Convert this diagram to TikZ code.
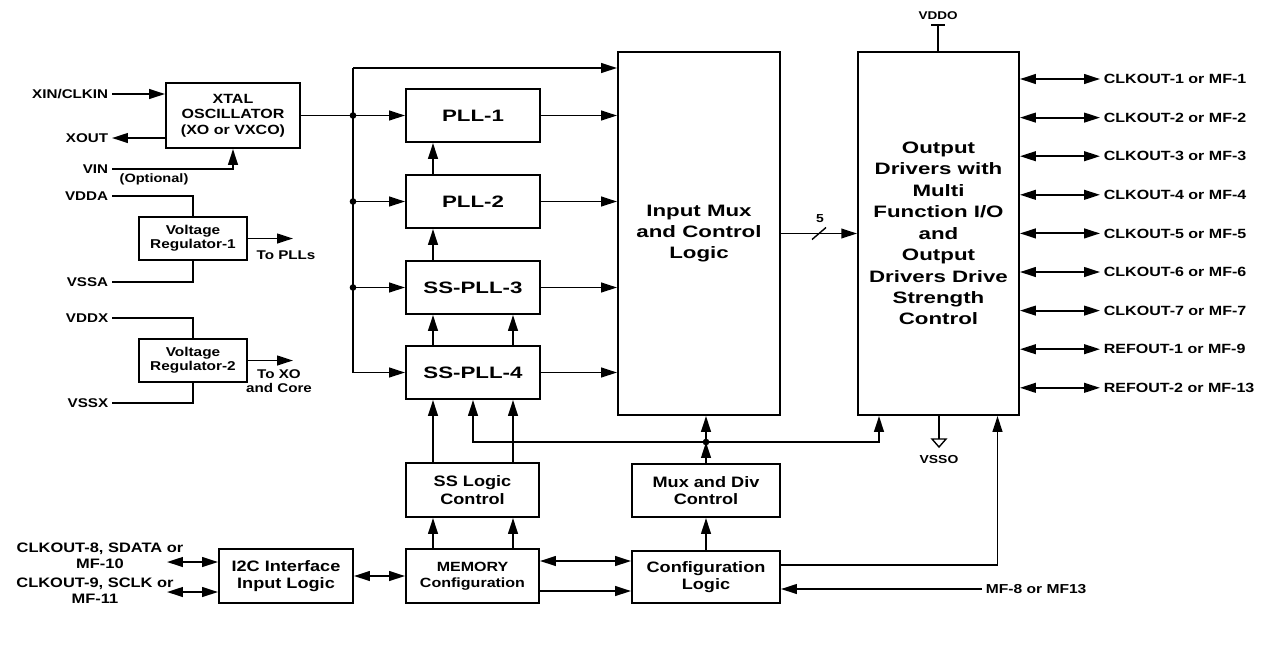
\documentclass[tikz,border=0pt]{standalone}
\usepackage{fontspec}
\setmainfont{Liberation Sans}[FakeStretch=1.2]
\newfontfamily\widefont{Liberation Sans}[FakeStretch=1.35]
\usepackage{tikz}
\usetikzlibrary{arrows.meta, positioning}

\begin{document}
\begin{tikzpicture}[
          x=0.02cm, y=-0.02cm,
          block/.style={
              draw=black,
              fill=white,
              line width=1.1pt,
              align=center,
              inner sep=1pt,
              font=\bfseries\fontsize{8.6}{10}\selectfont
            },
          bigblock/.style={
              block,
              font=\widefont\bfseries\fontsize{9.4}{12.2}\selectfont
            },
          pin/.style={
              inner sep=2pt,
              align=center,
              font=\bfseries\fontsize{7.2}{8.9}\selectfont
            },
          tinylbl/.style={
              inner sep=1pt,
              font=\bfseries\fontsize{6.4}{7}\selectfont
            },
          arr/.style={-{Triangle[length=9pt, width=5.5pt]}, line width=1.05pt},
          dbl/.style={{Triangle[length=9pt, width=5.5pt]}-{Triangle[length=9pt, width=5.5pt]}, line width=1.05pt},
          wire/.style={line width=1.05pt},
          dot/.style={circle, fill=black, inner sep=0pt, minimum size=3.8pt}
        ]
        \useasboundingbox (0,0) rectangle (1270,657);

        % oscillator and regulators
        \node[block, minimum width=2.68cm, minimum height=1.3cm,
              font=\bfseries\fontsize{7.6}{8.9}\selectfont] (xtal) at (233,115.5) {XTAL\\OSCILLATOR\\(XO or VXCO)};
        \node[block, minimum width=2.16cm, minimum height=0.86cm,
              font=\bfseries\fontsize{7.3}{8}\selectfont] (vreg1) at (193,238.5) {Voltage\\Regulator-1};
        \node[block, minimum width=2.16cm, minimum height=0.86cm,
              font=\bfseries\fontsize{7.3}{8}\selectfont] (vreg2) at (193,360.5) {Voltage\\Regulator-2};

        \node[pin, anchor=east] (xin) at (112,94) {XIN/CLKIN};
        \node[pin, anchor=east] (xout) at (112,138) {XOUT};
        \node[pin, anchor=east] (vin) at (112,169) {VIN};
        \node[tinylbl, font=\bfseries\fontsize{6.9}{7}\selectfont] (vinopt) at (154,179) {(Optional)};
        \node[pin, anchor=east] (vdda) at (112,196) {VDDA};
        \node[pin, anchor=east] (vssa) at (112,282) {VSSA};
        \node[pin, anchor=east] (vddx) at (112,318) {VDDX};
        \node[pin, anchor=east] (vssx) at (112,403) {VSSX};

        \draw[arr] (xin) -- (xin -| xtal.west);
        \draw[arr] (xout -| xtal.west) -- (xout);
        \draw[arr] (vin) -| (xtal.south);
        \draw[wire] (vdda) -| (vreg1.north);
        \draw[wire] (vssa) -| (vreg1.south);
        \draw[wire] (vddx) -| (vreg2.north);
        \draw[wire] (vssx) -| (vreg2.south);

        \coordinate (topll) at (293,238.5);
        \coordinate (toxo) at (293,360.5);
        \draw[arr] (vreg1) -- (topll);
        \draw[arr] (vreg2) -- (toxo);
        \node[pin] (topll_lbl) at (286,255) {To PLLs};
        \node[pin, font=\bfseries\fontsize{7.2}{7.8}\selectfont] (toxo_lbl) at (279,381) {To XO\\and Core};

        % PLL column
        \node[bigblock, minimum width=2.68cm, minimum height=1.06cm] (pll1) at (473,115.5) {PLL-1};
        \node[bigblock, minimum width=2.68cm, minimum height=1.06cm] (pll2) at (473,201.5) {PLL-2};
        \node[bigblock, minimum width=2.68cm, minimum height=1.06cm] (sspll3) at (473,287.5) {SS-PLL-3};
        \node[bigblock, minimum width=2.68cm, minimum height=1.06cm] (sspll4) at (473,372.5) {SS-PLL-4};

        \node[bigblock, minimum width=3.24cm, minimum height=7.26cm] (inmux) at (699,233.5) {Input Mux\\and Control\\Logic};
        \node[bigblock, minimum width=3.22cm, minimum height=7.26cm] (drv) at (938.5,233.5)
             {Output\\Drivers with\\Multi\\Function I/O\\and\\Output\\Drivers Drive\\Strength\\Control};

        \coordinate (bustop) at (353,68);
        \coordinate (busbot) at (353,372.5);
        \coordinate (cL) at (433,0);
        \coordinate (cM) at (473,0);
        \coordinate (cR) at (513,0);

        \draw[wire] (xtal.east) -- (xtal.east -| bustop);
        \draw[wire] (bustop) -- (busbot);
        \draw[arr] (bustop) -- (bustop -| inmux.west);
        \foreach \p in {pll1, pll2, sspll3, sspll4} {
          \draw[arr] (\p.west -| bustop) -- (\p.west);
          \draw[arr] (\p) -- (\p -| inmux.west);
        }
        \foreach \p in {pll1, pll2, sspll3} {
          \node[dot] at (\p.west -| bustop) {};
        }

        \draw[arr] (pll2.north -| cL) -- (pll1.south -| cL);
        \draw[arr] (sspll3.north -| cL) -- (pll2.south -| cL);
        \draw[arr] (sspll4.north -| cL) -- (sspll3.south -| cL);
        \draw[arr] (sspll4.north -| cR) -- (sspll3.south -| cR);

        % 5 bit bus
        \draw[arr] (inmux) -- coordinate[pos=0.5] (bw) (drv);
        \draw[wire, line width=0.8pt] (bw) ++(-7,6) -- ++(14,-12);
        \node[tinylbl, font=\bfseries\fontsize{6.6}{7}\selectfont] (bw_lbl) at (820,219) {5};

        % supply pins of the drivers
        \node[tinylbl] (vddo) at (938,16) {VDDO};
        \coordinate (vtop) at (938,25);
        \draw[wire] (drv.north -| vtop) -- (vtop);
        \draw[wire] (vtop) ++(-7,0) -- ++(14,0);
        \coordinate (vbot) at (939,439);
        \draw[wire] (drv.south -| vbot) -- (vbot);
        \draw[wire, line width=0.8pt, fill=white] (vbot) ++(-7,0) -- ++(14,0) -- ++(-7,8) -- cycle;
        \node[tinylbl, font=\bfseries\fontsize{6.6}{7}\selectfont] (vsso) at (939,459) {VSSO};

        % output pins
        \foreach \i/\lbl in {1/{CLKOUT-1 or MF-1}, 2/{CLKOUT-2 or MF-2}, 3/{CLKOUT-3 or MF-3},
                             4/{CLKOUT-4 or MF-4}, 5/{CLKOUT-5 or MF-5}, 6/{CLKOUT-6 or MF-6},
                             7/{CLKOUT-7 or MF-7}, 8/{REFOUT-1 or MF-9}, 9/{REFOUT-2 or MF-13}} {
          \node[pin, anchor=west, font=\bfseries\fontsize{7.6}{8.9}\selectfont] (out\i) at (1100,{79+(\i-1)*38.6}) {\lbl};
          \draw[dbl] (drv.east |- out\i) -- (out\i);
        }

        % control blocks
        \node[block, minimum width=2.66cm, minimum height=1.08cm] (sslogic) at (472.5,490) {SS Logic\\Control};
        \node[block, minimum width=2.66cm, minimum height=1.08cm,
              font=\bfseries\fontsize{7.6}{8.9}\selectfont] (memory) at (472.5,576) {MEMORY\\Configuration};
        \node[block, minimum width=2.96cm, minimum height=1.06cm] (muxdiv) at (706,490.5) {Mux and Div\\Control};
        \node[block, minimum width=2.96cm, minimum height=1.04cm] (config) at (706,577) {Configuration\\Logic};
        \node[block, minimum width=2.68cm, minimum height=1.08cm] (i2c) at (286,576) {I2C Interface\\Input Logic};

        \draw[arr] (sslogic.north -| cL) -- (sspll4.south -| cL);
        \draw[arr] (sslogic.north -| cR) -- (sspll4.south -| cR);
        \draw[arr] (memory.north -| cL) -- (sslogic.south -| cL);
        \draw[arr] (memory.north -| cR) -- (sslogic.south -| cR);

        \coordinate (jn) at (706,442);
        \coordinate (cD) at (879,0);
        \coordinate (cE) at (997.5,0);
        \draw[arr] (muxdiv.north) -- (jn);
        \draw[arr] (jn) -- (inmux.south -| jn);
        \draw[arr] (jn) -| (sspll4.south -| cM);
        \draw[arr] (jn) -| (drv.south -| cD);
        \node[dot] at (jn) {};
        \draw[arr] (config.north) -- (muxdiv.south);

        \coordinate (rA) at (0,561);
        \coordinate (rB) at (0,591);
        \coordinate (rC) at (0,565);
        \draw[dbl] (memory.east |- rA) -- (config.west |- rA);
        \draw[arr] (memory.east |- rB) -- (config.west |- rB);
        \draw[arr] (config.east |- rC) -| (drv.south -| cE);
        \draw[dbl] (i2c) -- (memory);

        \node[pin, anchor=west, font=\bfseries\fontsize{7.4}{8.9}\selectfont] (mf8) at (982,589) {MF-8 or MF13};
        \draw[arr] (mf8) -- (mf8 -| config.east);

        \node[pin, font=\bfseries\fontsize{7.8}{8.9}\selectfont] (sda_lbl) at (100,556) {CLKOUT-8, SDATA or\\MF-10};
        \node[pin, font=\bfseries\fontsize{7.8}{8.9}\selectfont] (scl_lbl) at (95,591) {CLKOUT-9, SCLK or\\MF-11};
        \coordinate (sda) at (167,562);
        \coordinate (scl) at (167,592);
        \draw[dbl] (sda) -- (sda -| i2c.west);
        \draw[dbl] (scl) -- (scl -| i2c.west);
      \end{tikzpicture}
\end{document}
